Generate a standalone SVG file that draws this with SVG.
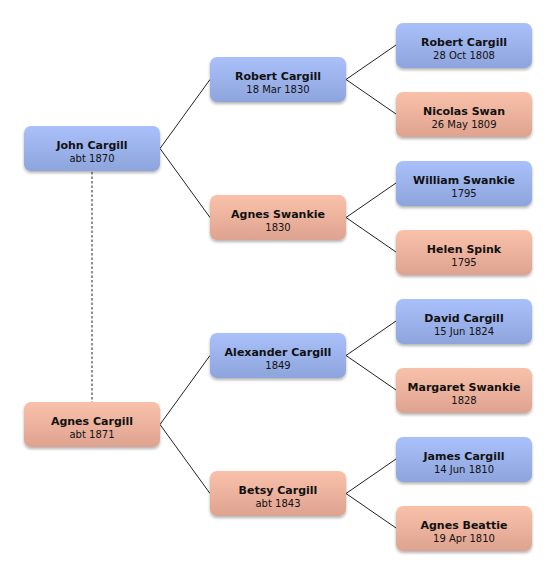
<svg xmlns="http://www.w3.org/2000/svg" width="556" height="574" viewBox="0 0 556 574">
<defs>
<linearGradient id="gb" x1="0" y1="0" x2="0" y2="1"><stop offset="0" stop-color="#aac0fa"/><stop offset="1" stop-color="#8da4dc"/></linearGradient>
<linearGradient id="gp" x1="0" y1="0" x2="0" y2="1"><stop offset="0" stop-color="#f9c1aa"/><stop offset="1" stop-color="#dea390"/></linearGradient>
<filter id="sh" x="-10%" y="-20%" width="120%" height="150%"><feGaussianBlur in="SourceAlpha" stdDeviation="1.5"/><feOffset dy="1.5"/><feComponentTransfer><feFuncA type="linear" slope="0.3"/></feComponentTransfer><feMerge><feMergeNode/><feMergeNode in="SourceGraphic"/></feMerge></filter>
</defs>
<style>
.b rect{fill:url(#gb);filter:url(#sh)}
.p rect{fill:url(#gp);filter:url(#sh)}
.n{font-family:"DejaVu Sans",sans-serif;font-weight:bold;font-size:11px;fill:#111;text-anchor:middle}
.d{font-family:"DejaVu Sans",sans-serif;font-size:10px;fill:#111;text-anchor:middle}
.c line{stroke:#222;stroke-width:1}
</style>
<rect width="556" height="574" fill="#fff"/>
<g class="c">
<line x1="92" y1="172" x2="92" y2="402" stroke="#777" stroke-dasharray="2.5,2"/>
<line x1="160" y1="148.5" x2="210" y2="79.5"/>
<line x1="160" y1="148.5" x2="210" y2="217.5"/>
<line x1="160" y1="424.5" x2="210" y2="355.5"/>
<line x1="160" y1="424.5" x2="210" y2="493.5"/>
<line x1="346" y1="79.5" x2="396" y2="45"/>
<line x1="346" y1="79.5" x2="396" y2="114"/>
<line x1="346" y1="217.5" x2="396" y2="183"/>
<line x1="346" y1="217.5" x2="396" y2="252"/>
<line x1="346" y1="355.5" x2="396" y2="321"/>
<line x1="346" y1="355.5" x2="396" y2="390"/>
<line x1="346" y1="493.5" x2="396" y2="459"/>
<line x1="346" y1="493.5" x2="396" y2="528"/>
</g>
<g id="john" class="b"><rect x="24" y="126" width="136" height="45" rx="7"/><text class="n" x="92" y="149">John Cargill</text><text class="d" x="92" y="161.5">abt 1870</text></g>
<g id="agnesc" class="p"><rect x="24" y="402" width="136" height="45" rx="7"/><text class="n" x="92" y="425">Agnes Cargill</text><text class="d" x="92" y="437.5">abt 1871</text></g>
<g id="robert1" class="b"><rect x="210" y="57" width="136" height="45" rx="7"/><text class="n" x="278" y="80">Robert Cargill</text><text class="d" x="278" y="92.5">18 Mar 1830</text></g>
<g id="agness" class="p"><rect x="210" y="195" width="136" height="45" rx="7"/><text class="n" x="278" y="218">Agnes Swankie</text><text class="d" x="278" y="230.5">1830</text></g>
<g id="alexander" class="b"><rect x="210" y="333" width="136" height="45" rx="7"/><text class="n" x="278" y="356">Alexander Cargill</text><text class="d" x="278" y="368.5">1849</text></g>
<g id="betsy" class="p"><rect x="210" y="471" width="136" height="45" rx="7"/><text class="n" x="278" y="494">Betsy Cargill</text><text class="d" x="278" y="506.5">abt 1843</text></g>
<g id="robert2" class="b"><rect x="396" y="23" width="136" height="45" rx="7"/><text class="n" x="464" y="46">Robert Cargill</text><text class="d" x="464" y="58.5">28 Oct 1808</text></g>
<g id="nicolas" class="p"><rect x="396" y="92" width="136" height="45" rx="7"/><text class="n" x="464" y="115">Nicolas Swan</text><text class="d" x="464" y="127.5">26 May 1809</text></g>
<g id="william" class="b"><rect x="396" y="161" width="136" height="45" rx="7"/><text class="n" x="464" y="184">William Swankie</text><text class="d" x="464" y="196.5">1795</text></g>
<g id="helen" class="p"><rect x="396" y="230" width="136" height="45" rx="7"/><text class="n" x="464" y="253">Helen Spink</text><text class="d" x="464" y="265.5">1795</text></g>
<g id="david" class="b"><rect x="396" y="299" width="136" height="45" rx="7"/><text class="n" x="464" y="322">David Cargill</text><text class="d" x="464" y="334.5">15 Jun 1824</text></g>
<g id="margaret" class="p"><rect x="396" y="368" width="136" height="45" rx="7"/><text class="n" x="464" y="391">Margaret Swankie</text><text class="d" x="464" y="403.5">1828</text></g>
<g id="james" class="b"><rect x="396" y="437" width="136" height="45" rx="7"/><text class="n" x="464" y="460">James Cargill</text><text class="d" x="464" y="472.5">14 Jun 1810</text></g>
<g id="agnesb" class="p"><rect x="396" y="506" width="136" height="45" rx="7"/><text class="n" x="464" y="529">Agnes Beattie</text><text class="d" x="464" y="541.5">19 Apr 1810</text></g>
</svg>
